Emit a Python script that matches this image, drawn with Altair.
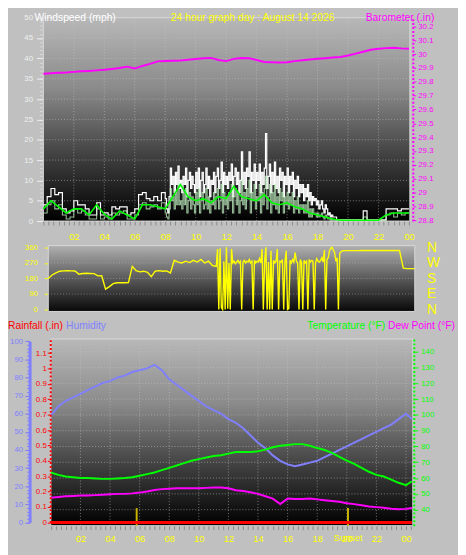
import json
import altair as alt
import pandas as pd

# ---------------- texts ----------------
TITLE = "24 hour graph day : August 14 2026"
WIND_TITLE = "Windspeed (mph)"
BARO_TITLE = "Barometer (.in)"
RAIN_TITLE = "Rainfall (.in)"
HUM_TITLE = "Humidity"
TEMP_TITLE = "Temperature (°F)"
DEW_TITLE = "Dew Point (°F)"
SUNSET_LABEL = "Sunset"

HOUR_LABELS = ["02", "04", "06", "08", "10", "12", "14", "16", "18", "20", "22", "00"]
COMPASS = ["N", "E", "S", "W", "N"]

# ---------------- tick values ----------------
WIND_TICKS = [0, 5, 10, 15, 20, 25, 30, 35, 40, 45, 50]
WIND_MINOR = list(range(0, 51))
BARO_TICKS = [28.8, 28.9, 29.0, 29.1, 29.2, 29.3, 29.4, 29.5, 29.6, 29.7, 29.8, 29.9, 30.0, 30.1, 30.2]
DIR_TICKS = [0, 90, 180, 270, 360]
HUM_TICKS = [0, 10, 20, 30, 40, 50, 60, 70, 80, 90, 100]
HUM_MINOR = list(range(0, 101, 2))
RAIN_TICKS = [0, 0.1, 0.2, 0.3, 0.4, 0.5, 0.6, 0.7, 0.8, 0.9, 1.0, 1.1]
TEMP_TICKS = [40, 50, 60, 70, 80, 90, 100, 110, 120, 130, 140]
GRID_HOURS = [2, 4, 6, 8, 10, 12, 14, 16, 18, 20, 22]
GRID_HOURS3 = [2, 4, 6, 8, 10, 12, 14, 16, 18, 20, 22, 24]
DIR_GRID = [90, 180, 270]

# ---------------- wind (mph) ----------------
# 00:00 .. 08:00 every 15 min
GUST_CALM = [4, 6, 8, 6.5, 7, 3, 2, 2.5, 5, 4, 4, 3, 1.5, 1.5, 4.5, 1.5,
             2, 1.5, 3.5, 3, 3.5, 3.5, 1.5, 2, 3, 6.5, 7, 5.5, 5, 6, 5, 7, 5.5]
SPEED_CALM = [2, 4, 5, 3, 4, 1.5, 0.5, 1, 3, 2, 2.5, 1.5, 0.5, 0.5, 3, 0.5,
              1, 0.5, 2, 1.5, 2, 2.5, 0.5, 0.5, 1.5, 4, 4.5, 3, 3.5, 4, 3, 4.5, 2]
# 08:05 .. 19:00 every 5 min
GUST_BUSY = [3, 2, 6, 13, 9, 11, 7, 12, 9, 13.5, 8, 10,
             7, 11, 9, 13, 6, 10, 12, 8, 11, 9, 7, 12,
             8, 13, 6, 10, 12, 7, 9, 13, 8, 11, 6, 10,
             9, 12, 7, 11, 13, 8, 10, 14.5, 7, 12, 9, 11,
             8, 12, 10, 14, 6, 11, 13, 9, 12, 7, 10, 17,
             9, 12, 8, 13, 11, 17, 7, 12, 10, 14, 8, 12,
             10, 14, 7, 12, 9, 13, 21.5, 8, 11, 14, 7, 12,
             9, 14.5, 8, 11, 7, 13, 10, 12, 6, 11, 9, 13,
             7, 11, 9, 12, 6, 10, 8, 11, 6, 9, 7, 9,
             5, 8, 6, 9, 5, 7, 4, 6, 5, 5.5, 4, 5,
             3, 4, 5, 3, 2, 4, 3, 1.5, 2, 1, 1.5, 1]
SPEED_BUSY = [1, 0.5, 3, 8, 5, 6, 3, 7, 4, 9, 4, 5,
              3, 7, 4, 8, 2, 5, 7, 3, 6, 4, 2, 7,
              4, 8, 2, 5, 7, 3, 4, 8, 3, 6, 2, 5,
              4, 7, 3, 6, 8, 3, 5, 9, 2, 7, 4, 6,
              3, 7, 5, 9, 2, 6, 8, 4, 7, 2, 5, 10,
              4, 7, 3, 8, 6, 10, 2, 7, 5, 9, 3, 6,
              5, 9, 2, 7, 4, 8, 11, 3, 6, 9, 2, 7,
              4, 9, 3, 6, 2, 8, 5, 7, 2, 6, 4, 7,
              3, 6, 4, 7, 2, 5, 3, 6, 2, 4, 3, 4,
              2, 4, 2, 5, 1, 3, 1, 3, 2, 2, 1, 2,
              1, 1.5, 2, 1, 0.5, 1.5, 1, 0.5, 0.5, 0.2, 0.5, 0.2]
# 19:15 .. 24:00 every 15 min
GUST_EVE = [0.3, 0.3, 0.3, 0.3, 0.3, 0.3, 0.3, 2.5, 0.3, 0.3, 0.3,
            0.3, 0.3, 3, 3, 3, 2.5, 3, 3, 3]
SPEED_EVE = [0.2, 0.2, 0.2, 0.2, 0.2, 0.2, 0.2, 1, 0.2, 0.2, 0.2,
             0.2, 0.2, 1.5, 2, 1, 2, 1.5, 2, 2]
# every 30 min 00:00 .. 24:00
WIND_AVG = [3, 5, 3.5, 2, 3, 3, 1.5, 4, 1.7, 0.5, 2.5, 1.5, 0.5, 4, 4, 3.5,
            3, 6, 9, 6, 5, 5.5, 4.5, 6, 5.5, 8.5, 6, 5.5, 5, 6.5, 4.5, 4,
            4.5, 3.5, 3, 2, 1.5, 1, 0.5, 0.2, 0.2, 0.2, 0.2, 0.2, 0.2, 1.5, 2, 2, 2]
BAROMETER = [29.859, 29.862, 29.866, 29.868, 29.872, 29.876, 29.879, 29.883, 29.887, 29.893,
             29.900, 29.910, 29.896, 29.915, 29.930, 29.948, 29.950, 29.952, 29.955, 29.960,
             29.965, 29.970, 29.973, 29.958, 29.950, 29.966, 29.972, 29.970, 29.958, 29.944,
             29.942, 29.940, 29.942, 29.950, 29.956, 29.962, 29.967, 29.971, 29.976, 29.980,
             29.990, 30.004, 30.018, 30.032, 30.040, 30.044, 30.046, 30.042, 30.040]

# ---------------- wind direction (deg) ----------------
# 00:00 .. 11:00 every 15 min
DIR_AM = [180, 200, 212, 222, 224, 225, 224, 223, 205, 209, 210, 209,
          208, 195, 196, 118, 133, 150, 155, 155, 155, 156, 250, 225,
          218, 222, 215, 190, 222, 225, 222, 224, 212, 285, 275, 270,
          280, 272, 285, 275, 290, 270, 280, 255, 250]
# 11:05 .. 19:30 every 5 min
DIR_GUSTY = [350, 0, 355, 10, 0, 280, 0, 360, 5, 270, 0, 350,
             270, 280, 265, 275, 285, 270, 280, 0, 275, 285, 270, 280,
             275, 290, 270, 280, 0, 285, 270, 280, 275, 295, 270, 350,
             0, 280, 360, 0, 275, 0, 340, 0, 285, 270, 280, 350,
             0, 280, 275, 290, 0, 280, 340, 0, 5, 285, 270, 290,
             275, 330, 280, 270, 0, 290, 275, 0, 285, 270, 280, 0,
             290, 275, 285, 280, 0, 270, 295, 280, 275, 285, 300, 275,
             345, 0, 290, 300, 340, 355, 360, 345, 330, 280, 300, 0,
             325, 335, 340, 341, 341, 341]
# 19:45 .. 24:00 every 15 min
DIR_PM = [341, 341, 341, 342, 342, 342, 342, 342, 342, 342, 342, 342, 342,
          342, 240, 237, 237, 237]

# ---------------- humidity / temperature (every 30 min, plus 24:24) ----------------
HUMIDITY = [59, 64, 67, 69, 71, 73, 75, 77, 78, 80,
            81, 83, 84, 85, 87, 84, 79, 76, 73, 70,
            67, 64, 62, 60, 57, 55, 52, 48, 44, 41,
            37, 34, 32, 31, 32, 33, 34, 36, 38, 40,
            42, 44, 46, 48, 50, 52, 54, 57, 60, 57]
TEMPERATURE = [63.5, 62, 61, 60.5, 60, 60, 59.7, 59.5, 59.5, 59.7,
               60, 60.5, 61.5, 62.5, 63.5, 65, 66.5, 68, 69.5, 71,
               72, 73, 74, 74.5, 75.5, 76.5, 76.5, 76.5, 77, 78,
               79.5, 80.5, 81, 81.5, 81.5, 80.5, 79, 77.8, 76, 73.5,
               71, 69, 66.5, 64, 62, 61, 59, 57, 55.5, 58]
DEWPOINT = [47.5, 48, 48.5, 48.7, 49, 49, 49.2, 49.5, 49.7, 50,
            50, 50.3, 50.8, 51.5, 52.5, 53, 53.3, 53.5, 53.5, 53.5,
            53.6, 53.8, 54, 54, 53.5, 52.3, 51.8, 51, 50, 48.5,
            47, 43.5, 47, 46.7, 46.8, 47, 46.5, 46, 45.5, 45,
            44, 43.5, 42.8, 42, 41.6, 41.2, 40.6, 40.2, 40.5, 41]
RAINFALL = [0.0] * 50
SUN_EVENTS = [5.8, 20.08]

# sampling times (hours)
WIND_HOURS = ([i / 4 for i in range(33)] + [8 + i / 12 for i in range(1, 133)]
              + [19 + i / 4 for i in range(1, 21)])
DIR_HOURS = ([i / 4 for i in range(45)] + [11 + i / 12 for i in range(1, 103)]
             + [19.5 + i / 4 for i in range(1, 19)])
HALF_HOURS = [i / 2 for i in range(49)]
P3_HOURS = HALF_HOURS + [24.4]

# ---------------- layout (pixels inside the chart) ----------------
W, H = 458, 547
FONT = "Liberation Sans"
X1 = ([0, 24.06], [36, 409])
X2 = ([0, 24], [41, 414])
X3 = ([0, 24.46], [43.6, 412])
WIND = ([0, 50], [212, 5])
BARO = ([28.793, 30.264], [212, 5])
DIRS = ([-11, 370], [304, 237])
TEMP = ([29.86, 148.1], [522, 332])
HUM = ([0, 100], [518.7, 334.3])
RAIN = ([0, 1.2], [518.7, 330.7])


def sc(s):
    return alt.Scale(domain=s[0], range=s[1], nice=False, zero=False)


def grad(stops):
    return alt.LinearGradient(
        gradient="linear",
        stops=[alt.GradientStop(color=c, offset=o) for o, c in stops],
        x1=0, x2=0, y1=0, y2=1)


hour_arr = [""] * 25
for i, lab in enumerate(HOUR_LABELS):
    hour_arr[2 * (i + 1)] = lab
HOUR_EXPR = ("abs(datum.value - round(datum.value)) < 0.01 ? "
             + json.dumps(hour_arr) + "[round(datum.value)] : ''")
COMPASS_EXPR = json.dumps(COMPASS) + "[round(datum.value / 90)]"


def hour_axis(offset, ticks, pad):
    return alt.Axis(orient="bottom", offset=offset, values=ticks, labelExpr=HOUR_EXPR,
                    labelColor="#ffff00", labelFontSize=9.5, labelFont=FONT, labelPadding=pad,
                    tickSize=4, tickColor="#8c8c8c", domain=False, grid=False, title=None,
                    labelOverlap=False, labelFlush=False, zindex=1)


def yaxis(orient, offset, values, color, size=8, tick=4, pad=3, fmt=None, domain=False,
          dash=None, dwidth=1, labels=True, expr=None, ticks=True):
    kw = dict(orient=orient, offset=offset, values=values, labelColor=color, labelFontSize=size,
              labelFont=FONT, tickSize=tick, tickColor=color, labelPadding=pad, grid=False,
              title=None, labelOverlap=False, labelFlush=False, domain=domain, labels=labels,
              ticks=ticks, zindex=1)
    if fmt:
        kw["format"] = fmt
    if expr:
        kw["labelExpr"] = expr
    if domain:
        kw["domainColor"] = color
        kw["domainWidth"] = dwidth
        if dash:
            kw["domainDash"] = dash
    return alt.Axis(**kw)


GRID_COLOR = "#c8c8c8"

p1 = pd.DataFrame({"h": WIND_HOURS, "gust": GUST_CALM + GUST_BUSY + GUST_EVE,
                   "speed": SPEED_CALM + SPEED_BUSY + SPEED_EVE})
p1b = pd.DataFrame({"h": HALF_HOURS, "avg": WIND_AVG, "baro": BAROMETER})
p2 = pd.DataFrame({"h": DIR_HOURS, "dir": DIR_AM + DIR_GUSTY + DIR_PM})
p3 = pd.DataFrame({"h": P3_HOURS, "hum": HUMIDITY, "temp": TEMPERATURE,
                   "dew": DEWPOINT, "rain": RAINFALL})

# ---------------- panel 1 ----------------
bg1 = alt.Chart(pd.DataFrame({"x0": [0], "x1": [24.06], "y0": [0], "y1": [50]})).mark_rect(
    fill=grad([(0, "#b8b8b8"), (0.35, "#8a8a8a"), (0.7, "#3c3c3c"), (1, "#000000")]),
    stroke="#d8d8d8", strokeWidth=1).encode(
    x=alt.X("x0:Q", scale=sc(X1), axis=hour_axis(-(H - 212), [i / 3 for i in range(73)], 7)),
    x2="x1:Q",
    y=alt.Y("y0:Q", scale=sc(WIND),
            axis=yaxis("left", -35, WIND_MINOR, "#d8d8d8", tick=3, labels=False)),
    y2="y1:Q")
g1v = alt.Chart(pd.DataFrame({"h": GRID_HOURS, "lo": 0, "hi": 50})).mark_rule(
    color=GRID_COLOR, strokeDash=[1, 2], opacity=0.55).encode(
    x=alt.X("h:Q", scale=sc(X1), axis=None),
    y=alt.Y("lo:Q", scale=sc(WIND), axis=None), y2="hi:Q")
g1h = alt.Chart(pd.DataFrame({"v": WIND_TICKS[1:-1], "a": 0, "b": 24.06})).mark_rule(
    color=GRID_COLOR, strokeDash=[1, 2], opacity=0.55).encode(
    x=alt.X("a:Q", scale=sc(X1), axis=None), x2="b:Q",
    y=alt.Y("v:Q", scale=sc(WIND), axis=None))
baro = alt.Chart(p1b).mark_line(color="#ff00ff", strokeWidth=2).encode(
    x=alt.X("h:Q", scale=sc(X1), axis=None),
    y=alt.Y("baro:Q", scale=sc(BARO),
            axis=yaxis("right", -46, BARO_TICKS, "#ff00ff", tick=3, pad=2, fmt=".1~f",
                       domain=True, dash=[2, 2], dwidth=2)))
gust = alt.Chart(p1).mark_line(color="#ffffff", strokeWidth=1.2, interpolate="step-after").encode(
    x=alt.X("h:Q", scale=sc(X1), axis=None),
    y=alt.Y("gust:Q", scale=sc(WIND),
            axis=yaxis("left", -35, WIND_TICKS, "#f0f0f0", tick=6, pad=4)))
speed = alt.Chart(p1).mark_line(color="#c4f5c4", strokeWidth=1.1, opacity=0.75,
                                interpolate="step-after").encode(
    x=alt.X("h:Q", scale=sc(X1), axis=None),
    y=alt.Y("speed:Q", scale=sc(WIND), axis=None))
avg = alt.Chart(p1b).mark_line(color="#00ff00", strokeWidth=1.6).encode(
    x=alt.X("h:Q", scale=sc(X1), axis=None),
    y=alt.Y("avg:Q", scale=sc(WIND), axis=None))

# ---------------- panel 2 ----------------
bg2 = alt.Chart(pd.DataFrame({"x0": [0], "x1": [24], "y0": [-11], "y1": [370]})).mark_rect(
    fill=grad([(0, "#b0b0b0"), (0.5, "#5a5a5a"), (1, "#080808")]),
    stroke="#d8d8d8", strokeWidth=1).encode(
    x=alt.X("x0:Q", scale=sc(X2), axis=None), x2="x1:Q",
    y=alt.Y("y0:Q", scale=sc(DIRS),
            axis=yaxis("right", -44, DIR_TICKS, "#ffff00", size=14, tick=0, pad=12,
                       expr=COMPASS_EXPR, ticks=False)),
    y2="y1:Q")
g2h = alt.Chart(pd.DataFrame({"v": DIR_GRID, "a": 0, "b": 24})).mark_rule(
    color=GRID_COLOR, strokeDash=[1, 2], opacity=0.45).encode(
    x=alt.X("a:Q", scale=sc(X2), axis=None), x2="b:Q",
    y=alt.Y("v:Q", scale=sc(DIRS), axis=None))
direction = alt.Chart(p2).mark_line(color="#ffff00", strokeWidth=1.4).encode(
    x=alt.X("h:Q", scale=sc(X2), axis=None),
    y=alt.Y("dir:Q", scale=sc(DIRS),
            axis=yaxis("left", -40, DIR_TICKS, "#ffff00", tick=3, pad=7)))

# ---------------- panel 3 ----------------
bg3 = alt.Chart(pd.DataFrame({"x0": [0], "x1": [24.46], "y0": [29.86], "y1": [148.1]})).mark_rect(
    fill=grad([(0, "#b8b8b8"), (0.35, "#8a8a8a"), (0.7, "#3c3c3c"), (1, "#000000")]),
    stroke="#d8d8d8", strokeWidth=1).encode(
    x=alt.X("x0:Q", scale=sc(X3), axis=hour_axis(-(H - 522), [i / 3 for i in range(74)], 4)),
    x2="x1:Q",
    y=alt.Y("y0:Q", scale=sc(TEMP), axis=None), y2="y1:Q")
g3v = alt.Chart(pd.DataFrame({"h": GRID_HOURS3, "lo": 29.86, "hi": 148.1})).mark_rule(
    color=GRID_COLOR, strokeDash=[1, 2], opacity=0.55).encode(
    x=alt.X("h:Q", scale=sc(X3), axis=None),
    y=alt.Y("lo:Q", scale=sc(TEMP), axis=None), y2="hi:Q")
g3h = alt.Chart(pd.DataFrame({"v": TEMP_TICKS, "a": 0, "b": 24.46})).mark_rule(
    color=GRID_COLOR, strokeDash=[1, 2], opacity=0.55).encode(
    x=alt.X("a:Q", scale=sc(X3), axis=None), x2="b:Q",
    y=alt.Y("v:Q", scale=sc(TEMP), axis=None))
hum_minor = alt.Chart(p3).mark_line(opacity=0).encode(
    x=alt.X("h:Q", scale=sc(X3), axis=None),
    y=alt.Y("hum:Q", scale=sc(HUM),
            axis=yaxis("left", -22, HUM_MINOR, "#8080ff", tick=3, labels=False)))
sun = alt.Chart(pd.DataFrame({"h": SUN_EVENTS, "lo": 29.86, "hi": 41})).mark_rule(
    color="#c8b400", strokeWidth=2).encode(
    x=alt.X("h:Q", scale=sc(X3), axis=None),
    y=alt.Y("lo:Q", scale=sc(TEMP), axis=None), y2="hi:Q")
rain = alt.Chart(p3).mark_line(color="#ff0000", strokeWidth=3).encode(
    x=alt.X("h:Q", scale=sc(X3), axis=None),
    y=alt.Y("rain:Q", scale=sc(RAIN),
            axis=yaxis("left", -43, RAIN_TICKS, "#ff0000", tick=3, pad=1, fmt=".1~f",
                       domain=True, dash=[2, 2], dwidth=2)))
hum = alt.Chart(p3).mark_line(color="#8080ff", strokeWidth=2).encode(
    x=alt.X("h:Q", scale=sc(X3), axis=None),
    y=alt.Y("hum:Q", scale=sc(HUM),
            axis=yaxis("left", -22, HUM_TICKS, "#8080ff", tick=5, pad=2,
                       domain=True, dwidth=3)))
dew = alt.Chart(p3).mark_line(color="#ff00ff", strokeWidth=2).encode(
    x=alt.X("h:Q", scale=sc(X3), axis=None),
    y=alt.Y("dew:Q", scale=sc(TEMP), axis=None))
temp = alt.Chart(p3).mark_line(color="#00ff00", strokeWidth=2).encode(
    x=alt.X("h:Q", scale=sc(X3), axis=None),
    y=alt.Y("temp:Q", scale=sc(TEMP),
            axis=yaxis("right", -45, TEMP_TICKS, "#00ff00", tick=4, pad=3,
                       domain=True, dash=[2, 2], dwidth=2)))
sunset = alt.Chart(pd.DataFrame({"h": [SUN_EVENTS[1]], "t": [SUNSET_LABEL]})).mark_text(
    color="#ffff00", font=FONT, fontSize=9.5, baseline="top").encode(
    x=alt.X("h:Q", scale=sc(X3), axis=None), y=alt.value(530), text="t:N")


def label(text, x, y, color, align="left", size=10.5):
    return alt.Chart(pd.DataFrame({"t": [text]})).mark_text(
        color=color, font=FONT, fontSize=size, align=align, baseline="alphabetic").encode(
        text="t:N", x=alt.value(x), y=alt.value(y))


titles = [
    label(WIND_TITLE, 27, 8.5, "#ffffff"),
    label(TITLE, 249, 8.5, "#ffff00", align="center"),
    label(BARO_TITLE, 364, 8.5, "#ff00ff"),
    label(RAIN_TITLE, 0, 322, "#ff0000"),
    label(HUM_TITLE, 59, 322, "#8080ff"),
    label(TEMP_TITLE, 384, 322, "#00ff00", align="right"),
    label(DEW_TITLE, 455, 322, "#ff00ff", align="right"),
]

chart = alt.layer(
    bg1, g1v, g1h, baro, gust, speed, avg,
    bg2, g2h, direction,
    bg3, g3v, g3h, hum_minor, sun, rain, hum, dew, temp, sunset,
    *titles
).resolve_scale(x="independent", y="independent").properties(
    width=W, height=H, padding=0, background="#c0c0c0",
    autosize=alt.AutoSizeParams(type="none")
).configure_view(strokeWidth=0).configure_text(font=FONT)

chart.save("out.html", embed_options={"renderer": "svg", "actions": False})
